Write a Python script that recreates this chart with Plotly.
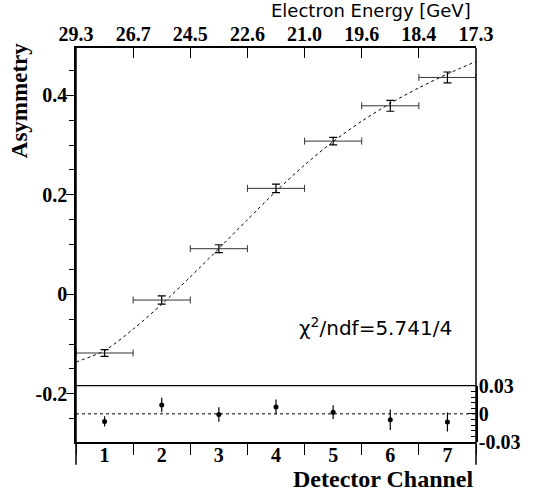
import plotly.graph_objects as go

# ---- data ----
channels = [1, 2, 3, 4, 5, 6, 7]
energy_labels = ["29.3", "26.7", "24.5", "22.6", "21.0", "19.6", "18.4", "17.3"]
asym = [-0.118, -0.0115, 0.0917, 0.213, 0.308, 0.379, 0.436]
asym_err = [0.0068, 0.0084, 0.0080, 0.0084, 0.0077, 0.0110, 0.0110]
bin_half = [0.5, 0.5, 0.5, 0.5, 0.5, 0.5, 0.5]
resid = [-0.0081, 0.0095, -0.0007, 0.0074, 0.0018, -0.0064, -0.0088]
resid_err = [0.0056, 0.0078, 0.0079, 0.0079, 0.0074, 0.0110, 0.0102]
fit_x = [0.5, 1, 1.5, 2, 2.5, 3, 3.5, 4, 4.5, 5, 5.5, 6, 6.5, 7, 7.5]
fit_y = [-0.136, -0.113, -0.070, -0.020, 0.035, 0.092, 0.150, 0.207, 0.260,
         0.307, 0.348, 0.384, 0.415, 0.443, 0.468]
y_ticks = [-0.2, 0, 0.2, 0.4]
y_ticktext = ["-0.2", "0", "0.2", "0.4"]
r_ticks = [-0.03, 0, 0.03]
r_ticktext = ["-0.03", "0", "0.03"]
chi2_text = "χ<sup>2</sup>/ndf=5.741/4"

edges = [c - 0.5 for c in channels] + [channels[-1] + 0.5]
xr = [edges[0], edges[-1]]

SERIF = "Liberation Serif"
SANS = "DejaVu Sans"
tickfont = dict(family=SERIF, size=20, color="black", weight="bold")

fig = go.Figure()

fig.add_trace(go.Scatter(
    x=fit_x, y=fit_y, mode="lines", xaxis="x", yaxis="y",
    line=dict(color="black", width=1, dash="3px,3px", shape="spline", smoothing=0.8),
    hoverinfo="skip", showlegend=False))

fig.add_trace(go.Scatter(
    x=channels, y=asym, mode="markers", xaxis="x", yaxis="y",
    marker=dict(size=1, color="black"),
    error_x=dict(type="data", array=bin_half, symmetric=True, color="#333333",
                 thickness=1, width=3.5),
    error_y=dict(type="data", array=asym_err, symmetric=True, color="black",
                 thickness=1.2, width=4),
    showlegend=False))

fig.add_trace(go.Scatter(
    x=channels, y=resid, mode="markers", xaxis="x", yaxis="y2",
    marker=dict(size=5, color="black"),
    error_y=dict(type="data", array=resid_err, symmetric=True, color="black",
                 thickness=1.2, width=0),
    showlegend=False))

# invisible anchor traces so overlay axes render
fig.add_trace(go.Scatter(x=xr, y=[None, None], xaxis="x2", yaxis="y",
                         showlegend=False, hoverinfo="skip"))
fig.add_trace(go.Scatter(x=xr, y=[None, None], xaxis="x3", yaxis="y",
                         showlegend=False, hoverinfo="skip"))

fig.update_layout(
    width=552, height=496,
    margin=dict(l=76, r=76, t=48, b=54),
    paper_bgcolor="white", plot_bgcolor="rgba(0,0,0,0)",
    xaxis=dict(domain=[0, 1], range=xr, anchor="y", tickmode="array",
               tickvals=edges, showticklabels=False, ticks="outside",
               ticklen=11, tickwidth=1, tickcolor="black",
               showline=True, linecolor="black", linewidth=1.5,
               showgrid=False, zeroline=False),
    xaxis2=dict(overlaying="x", side="top", anchor="y", range=xr,
                tickmode="array", tickvals=edges, ticktext=energy_labels,
                ticks="inside", ticklen=10, tickwidth=1, tickcolor="black",
                ticklabelstandoff=-3,
                tickfont=tickfont, showline=True, linecolor="black",
                linewidth=1.5, showgrid=False, zeroline=False),
    xaxis3=dict(overlaying="x", side="bottom", anchor="y", range=xr,
                tickmode="array", tickvals=channels,
                ticktext=[str(c) for c in channels],
                ticks="", ticklabelstandoff=-1,
                tickfont=tickfont, showline=False, showgrid=False,
                zeroline=False),
    yaxis=dict(domain=[0, 1], range=[-0.2969, 0.4952], anchor="x",
               tickmode="array", tickvals=y_ticks, ticktext=y_ticktext,
               ticks="outside", ticklen=8, tickwidth=1, tickcolor="black",
               ticklabelstandoff=-5,
               minor=dict(tickmode="linear", tick0=0, dtick=0.05,
                          ticks="outside", ticklen=5, tickcolor="black",
                          showgrid=False),
               tickfont=tickfont, showline=True, linecolor="black",
               linewidth=1.5, showgrid=False, zeroline=False),
    yaxis2=dict(domain=[0, 0.1429], range=[-0.0302, 0.0302], anchor="x",
                side="right", tickmode="array", tickvals=r_ticks,
                ticktext=r_ticktext, ticks="inside", ticklen=8,
                tickwidth=1, tickcolor="black", ticklabelstandoff=-3,
                minor=dict(tickmode="linear", tick0=0, dtick=0.006,
                           ticks="inside", ticklen=5, tickcolor="black",
                           showgrid=False),
                tickfont=tickfont, showline=True, linecolor="black",
                linewidth=1.5, showgrid=False, zeroline=False),
    shapes=[
        dict(type="line", xref="x domain", yref="y2 domain", x0=0, x1=1,
             y0=1, y1=1, line=dict(color="black", width=1.3)),
        dict(type="line", xref="x domain", yref="y2", x0=0, x1=1,
             y0=0, y1=0, line=dict(color="black", width=1, dash="dot")),
        dict(type="line", xref="paper", yref="paper", x0=0, x1=0,
             y0=-0.058, y1=1, line=dict(color="black", width=1.5)),
        dict(type="line", xref="paper", yref="paper", x0=1, x1=1,
             y0=-0.058, y1=1, line=dict(color="black", width=1.5)),
    ],
    annotations=[
        dict(text="Electron Energy [GeV]", xref="paper", yref="paper",
             x=0.9925, y=1.0964, xanchor="right", yanchor="middle",
             showarrow=False, font=dict(family=SANS, size=18, color="black")),
        dict(text="Asymmetry", xref="paper", yref="paper", x=-0.1425,
             y=0.865, xanchor="center", yanchor="middle", textangle=-90,
             showarrow=False,
             font=dict(family=SERIF, size=23, color="black", weight="bold")),
        dict(text="Detector Channel", xref="paper", yref="paper", x=1.0,
             y=-0.094, xanchor="right", yanchor="middle", showarrow=False,
             font=dict(family=SERIF, size=24, color="black", weight="bold")),
        dict(text=chi2_text, xref="paper", yref="paper", x=0.7475,
             y=0.2919, xanchor="center", yanchor="middle", showarrow=False,
             font=dict(family=SANS, size=20, color="black")),
    ],
)

fig.write_html("out.html", config={"displayModeBar": False},
               post_script="document.body.style.margin='0';")
